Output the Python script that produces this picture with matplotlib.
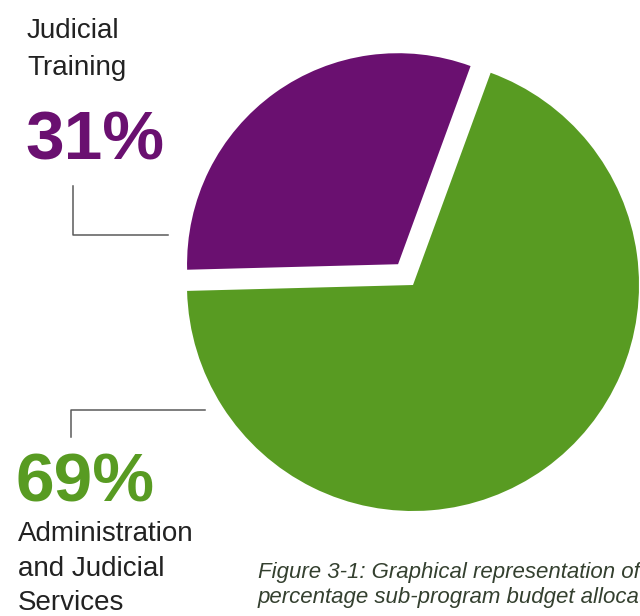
import matplotlib
matplotlib.use("Agg")
import matplotlib.pyplot as plt

# Sub-program budget split
categories = [["Judicial", "Training"],
              ["Administration", "and Judicial", "Services"]]
shares = [31, 69]
colors = ["#6a1070", "#589b22"]
caption = ["Figure 3-1: Graphical representation of the",
           "percentage sub-program budget allocation"]

W, H = 640, 616
FONT = "Liberation Sans"
TEXT_C = "#222222"
LINE_C = "#5a5a5a"


def Y(y):
    # page coords run top-down, the axes run bottom-up
    return H - y


fig = plt.figure(figsize=(W / 100, H / 100), dpi=100)
ax = fig.add_axes([0, 0, 1, 1])

wedges, _ = ax.pie(shares, colors=colors, startangle=181.5, counterclock=False,
                   radius=226, center=(413, Y(285)), explode=[25.6, 0],
                   wedgeprops=dict(linewidth=0))
wedges[0].set_radius(211)

ax.set_xlim(0, W)
ax.set_ylim(0, H)
ax.set_aspect("equal")
ax.axis("off")

# --- Judicial Training ---
for txt, yb in zip(categories[0], [38, 75]):
    ax.text(27, Y(yb), txt, family=FONT, fontsize=20, color=TEXT_C, va="baseline")
ax.text(25, Y(160), f"{shares[0]}%", family=FONT, fontsize=50, weight="bold",
        color=colors[0], va="baseline")
ax.plot([73, 73, 168], [Y(186), Y(235), Y(235)], color=LINE_C, lw=1.1)

# --- Administration and Judicial Services ---
ax.plot([71, 71, 205], [Y(437), Y(410), Y(410)], color=LINE_C, lw=1.1)
ax.text(16, Y(502), f"{shares[1]}%", family=FONT, fontsize=50, weight="bold",
        color=colors[1], va="baseline")
for txt, yb in zip(categories[1], [541, 576, 610]):
    ax.text(18, Y(yb), txt, family=FONT, fontsize=20, color=TEXT_C, va="baseline")

# caption runs off the right edge of the page
for txt, yb in zip(caption, [578, 603]):
    ax.text(258, Y(yb), txt, family=FONT, fontsize=16, style="italic",
            color="#34402f", va="baseline")

fig.savefig("out.png", dpi=100)
